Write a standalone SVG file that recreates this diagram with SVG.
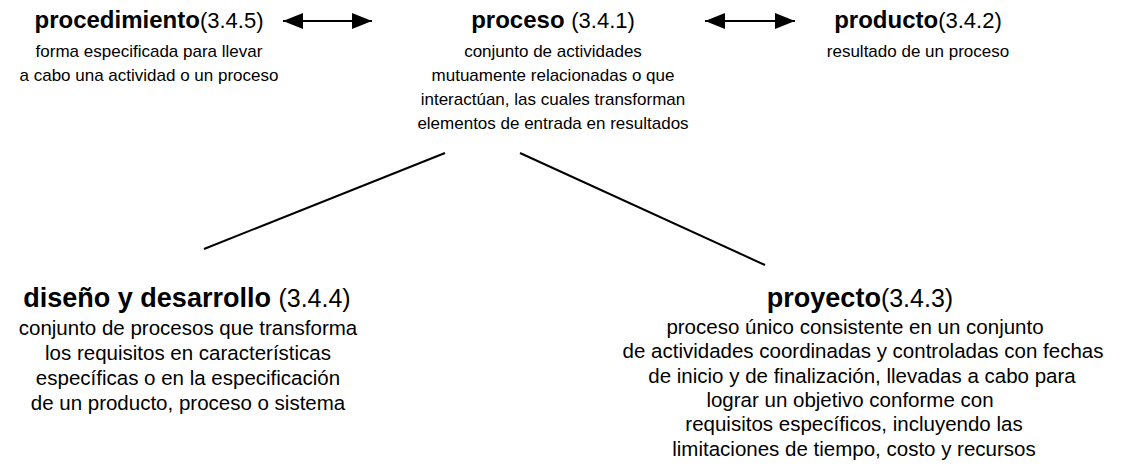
<svg xmlns="http://www.w3.org/2000/svg" width="1137" height="470" viewBox="0 0 1137 470">
<style>
text{font-family:"Liberation Sans",Arial,sans-serif;fill:#000;text-anchor:middle}
.t{font-size:24px;font-weight:bold}
.n{font-weight:normal;font-size:22px}
.b{font-size:17px}
.T{font-size:27px;font-weight:bold}
.N{font-weight:normal;font-size:25px}
.B{font-size:20.5px}
.c{stroke:#000;stroke-width:2;fill:none}
</style>
<defs>
<marker id="a" viewBox="0 0 20 16" refX="20" refY="8" markerWidth="20" markerHeight="16" markerUnits="userSpaceOnUse" orient="auto-start-reverse">
<path d="M0,0L20,8L0,16Z" fill="#000"/>
</marker>
</defs>
<rect width="1137" height="470" fill="#fff"/>
<g id="connectors">
<line class="c" x1="283" y1="21" x2="372" y2="21" marker-start="url(#a)" marker-end="url(#a)"/>
<line class="c" x1="705" y1="21" x2="795" y2="21" marker-start="url(#a)" marker-end="url(#a)"/>
<line class="c" x1="445" y1="153" x2="204" y2="249"/>
<line class="c" x1="520" y1="153" x2="765" y2="265"/>
</g>
<g id="procedimiento">
<text class="t" x="149" y="28">procedimiento<tspan class="n">(3.4.5)</tspan></text>
<text class="b" x="149" y="57">forma especificada para llevar</text>
<text class="b" x="149" y="81">a cabo una actividad o un proceso</text>
</g>
<g id="proceso">
<text class="t" x="553" y="28">proceso <tspan class="n">(3.4.1)</tspan></text>
<text class="b" x="553" y="57">conjunto de actividades</text>
<text class="b" x="553" y="81">mutuamente relacionadas o que</text>
<text class="b" x="553" y="105">interactúan, las cuales transforman</text>
<text class="b" x="553" y="129">elementos de entrada en resultados</text>
</g>
<g id="producto">
<text class="t" x="918" y="28">producto<tspan class="n">(3.4.2)</tspan></text>
<text class="b" x="918" y="57">resultado de un proceso</text>
</g>
<g id="diseno">
<text class="T" x="187" y="307">diseño y desarrollo <tspan class="N">(3.4.4)</tspan></text>
<text class="B" x="188" y="335">conjunto de procesos que transforma</text>
<text class="B" x="188" y="360">los requisitos en características</text>
<text class="B" x="188" y="385">específicas o en la especificación</text>
<text class="B" x="188" y="410">de un producto, proceso o sistema</text>
</g>
<g id="proyecto">
<text class="T" x="860" y="307">proyecto<tspan class="N">(3.4.3)</tspan></text>
<text class="B" x="855" y="334">proceso único consistente en un conjunto</text>
<text class="B" x="863" y="358">de actividades coordinadas y controladas con fechas</text>
<text class="B" x="862" y="383">de inicio y de finalización, llevadas a cabo para</text>
<text class="B" x="850" y="407">lograr un objetivo conforme con</text>
<text class="B" x="854" y="431">requisitos específicos, incluyendo las</text>
<text class="B" x="854" y="456">limitaciones de tiempo, costo y recursos</text>
</g>
</svg>
